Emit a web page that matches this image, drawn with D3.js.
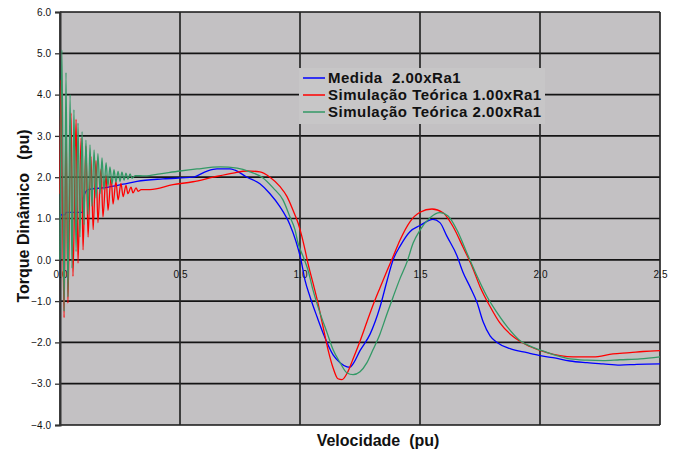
<!DOCTYPE html>
<html>
<head>
<meta charset="utf-8">
<script src="https://cdn.jsdelivr.net/npm/d3@7"></script>
<style>
    body { margin: 0; background: #ffffff; }
    svg text { font-family: Arial, "Liberation Sans", sans-serif; }
</style>
</head>
<body>
<div id="chart"></div>
<script>

// tick values of both axes
var xTicks = [0.0, 0.5, 1.0, 1.5, 2.0, 2.5];
var yTicks = [6, 5, 4, 3, 2, 1, 0, -1, -2, -3, -4];

var seriesNames = ["Medida  2.00xRa1", "Simulação Teórica 1.00xRa1", "Simulação Teórica 2.00xRa1"];
var seriesColors = ["#0000ff", "#ff0000", "#339966"];

// [velocidade, torque]
var medida = [
    [0.004,1.09],[0.021,1.09],[0.025,1.15],[0.042,1.15],[0.096,1.15],[0.097,1.50],[0.117,1.70],
    [0.190,1.75],[0.263,1.83],[0.321,1.90],[0.429,1.96],[0.554,2.00],[0.613,2.15],[0.654,2.20],
    [0.708,2.20],[0.729,2.17],[0.779,2.00],[0.833,1.84],[0.875,1.60],[0.917,1.28],[0.958,0.85],
    [0.983,0.45],[1.004,0.00],[1.021,-0.50],[1.042,-0.90],[1.071,-1.38],[1.096,-1.77],[1.138,-2.30],
    [1.167,-2.49],[1.196,-2.59],[1.208,-2.60],[1.221,-2.52],[1.250,-2.20],[1.292,-1.80],[1.333,-1.15],
    [1.363,-0.50],[1.388,0.00],[1.417,0.33],[1.458,0.68],[1.500,0.83],[1.554,0.98],[1.583,0.90],
    [1.613,0.56],[1.654,0.10],[1.679,-0.30],[1.708,-0.65],[1.738,-1.04],[1.763,-1.50],[1.792,-1.84],
    [1.821,-2.00],[1.875,-2.15],[1.946,-2.25],[2.000,-2.32],[2.054,-2.37],[2.125,-2.45],[2.196,-2.49],
    [2.263,-2.52],[2.333,-2.55],[2.404,-2.53],[2.500,-2.52]
];

var simRa1 = [
    [0.000,1.60],[0.004,4.35],[0.017,-1.40],[0.025,3.40],[0.033,-1.05],[0.046,3.55],[0.054,-0.40],
    [0.067,3.40],[0.075,-0.08],[0.088,2.95],[0.096,0.24],[0.108,2.75],[0.117,0.55],[0.129,2.50],
    [0.138,0.73],[0.150,2.40],[0.158,0.90],[0.171,2.20],[0.179,1.04],[0.192,2.05],[0.200,1.20],
    [0.213,2.00],[0.221,1.35],[0.233,1.90],[0.242,1.45],[0.254,1.85],[0.263,1.53],[0.275,1.80],
    [0.283,1.60],[0.296,1.76],[0.304,1.62],[0.317,1.74],[0.325,1.66],[0.338,1.70],
    [0.375,1.70],[0.471,1.82],[0.554,1.89],[0.638,2.00],[0.721,2.10],[0.779,2.15],[0.833,2.13],
    [0.875,2.00],[0.917,1.77],[0.946,1.53],[0.971,1.20],[0.992,0.89],[1.008,0.56],[1.021,0.24],
    [1.033,-0.08],[1.054,-0.56],[1.071,-0.95],[1.096,-1.62],[1.117,-2.18],[1.138,-2.62],[1.158,-2.88],
    [1.175,-2.90],[1.196,-2.75],[1.221,-2.40],[1.250,-1.97],[1.279,-1.50],[1.304,-1.10],[1.333,-0.68],
    [1.363,-0.26],[1.388,0.08],[1.417,0.48],[1.458,0.92],[1.500,1.15],[1.550,1.23],[1.596,1.14],
    [1.638,0.80],[1.679,0.31],[1.717,-0.16],[1.750,-0.65],[1.792,-1.13],[1.833,-1.53],[1.888,-1.86],
    [1.958,-2.10],[2.029,-2.25],[2.083,-2.32],[2.138,-2.35],[2.221,-2.35],[2.304,-2.28],[2.375,-2.25],
    [2.429,-2.22],[2.500,-2.20]
];

var simRa2 = [
    [0.000,0.00],[0.008,5.08],[0.017,-1.25],[0.025,4.53],[0.033,-0.90],[0.042,4.00],[0.050,-0.20],
    [0.058,3.63],[0.067,0.20],[0.075,3.31],[0.083,0.55],[0.092,3.10],[0.100,0.85],[0.108,2.90],
    [0.117,1.10],[0.125,2.78],[0.133,1.30],[0.142,2.66],[0.150,1.50],[0.158,2.57],[0.167,1.60],
    [0.175,2.47],[0.183,1.70],[0.192,2.35],[0.200,1.78],[0.208,2.25],[0.217,1.84],[0.225,2.18],
    [0.233,1.88],[0.242,2.14],[0.250,1.90],[0.258,2.12],[0.267,1.93],[0.275,2.10],[0.283,1.95],
    [0.292,2.08],[0.300,1.97],[0.313,2.04],
    [0.354,2.03],[0.417,2.08],[0.500,2.15],[0.571,2.20],[0.667,2.25],[0.738,2.22],[0.792,2.13],
    [0.846,1.98],[0.888,1.74],[0.929,1.45],[0.958,1.04],[0.979,0.73],[0.992,0.40],[1.013,0.08],
    [1.033,-0.24],[1.054,-0.73],[1.083,-1.28],[1.113,-1.77],[1.138,-2.18],[1.167,-2.49],[1.196,-2.74],
    [1.221,-2.78],[1.250,-2.71],[1.279,-2.49],[1.304,-2.18],[1.333,-1.80],[1.363,-1.30],[1.388,-0.90],
    [1.417,-0.45],[1.446,-0.05],[1.471,0.40],[1.500,0.72],[1.542,1.02],[1.583,1.14],[1.617,1.06],
    [1.654,0.72],[1.696,0.16],[1.738,-0.40],[1.779,-0.89],[1.821,-1.28],[1.863,-1.62],[1.917,-1.96],
    [1.971,-2.12],[2.029,-2.24],[2.071,-2.32],[2.125,-2.40],[2.196,-2.43],[2.263,-2.44],[2.333,-2.42],
    [2.417,-2.40],[2.500,-2.35]
];

var series = [medida, simRa1, simRa2];

var W = 674, H = 454;
var plot = {left: 60, right: 660, top: 12, bottom: 425};

// Create scale functions
var xScale = d3.scaleLinear()
                .domain([0, 2.5])
                .range([plot.left, plot.right]);

var yScale = d3.scaleLinear()
                .domain([-4, 6])
                .range([plot.bottom, plot.top]);  // y flipped

var svg = d3.select("#chart")
    .append("svg")
    .attr("width", W)
    .attr("height", H);

// plot area background
svg.append("rect")
    .attr("x", plot.left)
    .attr("y", plot.top)
    .attr("width", plot.right - plot.left)
    .attr("height", plot.bottom - plot.top)
    .attr("fill", "#c3c1c3");

// grid lines
var grid = svg.append("g").attr("id", "grid");
grid.selectAll("line.h")
    .data(yTicks)
    .enter()
    .append("line")
    .attr("class", "h")
    .attr("x1", plot.left)
    .attr("x2", plot.right)
    .attr("y1", function(d) { return yScale(d); })
    .attr("y2", function(d) { return yScale(d); })
    .attr("stroke", "#141414")
    .attr("stroke-width", 1.7);
grid.selectAll("line.v")
    .data(xTicks)
    .enter()
    .append("line")
    .attr("class", "v")
    .attr("x1", function(d) { return xScale(d); })
    .attr("x2", function(d) { return xScale(d); })
    .attr("y1", plot.top)
    .attr("y2", plot.bottom)
    .attr("stroke", "#262626")
    .attr("stroke-width", 1.7);

// y axis: ticks and labels on the left
var yAxis = svg.append("g")
    .attr("transform", "translate(" + plot.left + ",0)")
    .call(d3.axisLeft(yScale).tickValues(yTicks).tickSize(5).tickPadding(4)
          .tickFormat(d3.format(".1f")));
yAxis.select(".domain").attr("stroke", "#333").attr("stroke-width", 2);
yAxis.selectAll(".tick line").attr("stroke", "#333").attr("stroke-width", 1.3);
yAxis.selectAll(".tick text")
    .attr("font-size", "10px")
    .attr("fill", "#111")
    .attr("font-family", "Arial, 'Liberation Sans', sans-serif");

// x axis labels sit on the zero line
var xAxis = svg.append("g")
    .attr("transform", "translate(0," + yScale(0) + ")")
    .call(d3.axisBottom(xScale).tickValues(xTicks).tickSize(0).tickPadding(11)
          .tickFormat(d3.format(".1f")));
xAxis.select(".domain").remove();
xAxis.selectAll(".tick text")
    .attr("font-size", "10px")
    .attr("fill", "#111")
    .attr("font-family", "Arial, 'Liberation Sans', sans-serif");

// the curves
var line = d3.line()
    .curve(d3.curveMonotoneX)
    .x(function(d) { return xScale(d[0]); })
    .y(function(d) { return yScale(d[1]); });

svg.append("g")
    .attr("id", "curves")
    .selectAll("path")
    .data(series)
    .enter()
    .append("path")
    .attr("d", line)
    .attr("fill", "none")
    .attr("stroke", function(d, i) { return seriesColors[i]; })
    .attr("stroke-width", 1.3)
    .attr("stroke-linejoin", "round");

// legend
var legend = svg.append("g").attr("id", "legend");
legend.append("rect")
    .attr("x", 299)
    .attr("y", 68)
    .attr("width", 246)
    .attr("height", 56)
    .attr("fill", "#c7c6c7");
var rows = legend.selectAll("g")
    .data(seriesNames)
    .enter()
    .append("g")
    .attr("transform", function(d, i) { return "translate(303," + (78 + i * 17) + ")"; });
rows.append("line")
    .attr("x1", 0)
    .attr("x2", 22)
    .attr("stroke", function(d, i) { return seriesColors[i]; })
    .attr("stroke-width", 1.5);
rows.append("text")
    .attr("x", 25)
    .attr("y", 5)
    .attr("font-size", "15px")
    .attr("font-weight", "bold")
    .attr("letter-spacing", "0.5px")
    .style("white-space", "pre")
    .attr("fill", "#111")
    .text(function(d) { return d; });

// axis titles
svg.append("text")
    .attr("x", 378)
    .attr("y", 446)
    .attr("text-anchor", "middle")
    .attr("font-size", "16px")
    .attr("font-weight", "bold")
    .style("white-space", "pre")
    .attr("fill", "#111")
    .text("Velocidade  (pu)");

svg.append("text")
    .attr("transform", "translate(29,216) rotate(-90)")
    .attr("text-anchor", "middle")
    .attr("font-size", "16px")
    .attr("font-weight", "bold")
    .style("white-space", "pre")
    .attr("fill", "#111")
    .text("Torque Dinâmico   (pu)");

</script>
</body>
</html>
